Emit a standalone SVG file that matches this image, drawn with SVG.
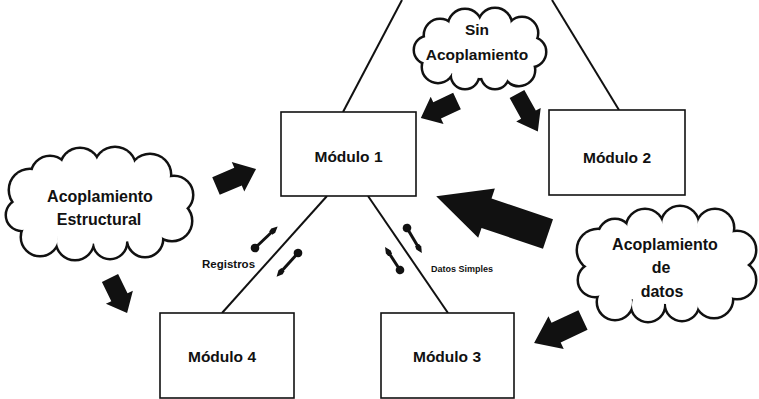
<svg xmlns="http://www.w3.org/2000/svg" xmlns:xlink="http://www.w3.org/1999/xlink" width="759" height="399" viewBox="0 0 759 399">
<style>
  .box{fill:#fff;stroke:#111;stroke-width:1.6}
  .lbl{font-family:"Liberation Sans",Arial,sans-serif;font-weight:bold;fill:#111;text-anchor:middle}
  .mod{font-size:15.5px}
  .cl{font-size:16px}
  .small{font-family:"Liberation Sans",Arial,sans-serif;font-weight:bold;fill:#111}
  .link{stroke:#111;stroke-width:2;fill:none}
  .big{fill:#111}
  .dart{stroke:#111;stroke-width:3;fill:none;marker-start:url(#dot);marker-end:url(#tip)}
  .cout{fill:#111;stroke:#111;stroke-width:5}
  .cin{fill:#fff;stroke:none}
</style>
<defs>
  <path id="blk" d="M0,-0.3 H0.55 V-0.5 L1,0 L0.55,0.5 V0.3 H0 Z"/>
  <marker id="dot" viewBox="-3 -3 6 6" markerWidth="3.2" markerHeight="3.2" refX="0" refY="0" orient="auto" markerUnits="strokeWidth">
    <circle r="2.7" fill="#111"/>
  </marker>
  <marker id="tip" viewBox="-1 -3 8 6" markerWidth="3.2" markerHeight="2.4" refX="4" refY="0" orient="auto" markerUnits="strokeWidth">
    <path d="M-1,-1.8 L2,-2.4 L7,0 L2,2.4 L-1,1.8 Z" fill="#111"/>
  </marker>
  <g id="cloud1">
    <ellipse cx="480" cy="50" rx="50" ry="28"/>
    <circle cx="440" cy="35" r="15"/><circle cx="465" cy="26" r="16"/><circle cx="495" cy="25" r="16"/>
    <circle cx="522" cy="33" r="15"/><circle cx="531" cy="52" r="14"/><circle cx="519" cy="70" r="15"/>
    <circle cx="495" cy="75" r="13"/><circle cx="465" cy="75" r="13"/><circle cx="438" cy="67" r="15"/>
    <circle cx="428" cy="50" r="13"/>
  </g>
  <g id="cloud2">
    <ellipse cx="101" cy="204" rx="75" ry="40"/>
    <circle cx="30" cy="190" r="20"/><circle cx="22" cy="215" r="15"/><circle cx="40" cy="237" r="18"/>
    <circle cx="75" cy="241" r="18"/><circle cx="110" cy="242" r="16"/><circle cx="145" cy="239" r="17"/>
    <circle cx="172" cy="221" r="19"/><circle cx="174" cy="195" r="18"/><circle cx="150" cy="175" r="20"/>
    <circle cx="115" cy="168" r="20"/><circle cx="80" cy="168" r="19"/><circle cx="50" cy="175" r="18"/>
  </g>
  <g id="cloud3">
    <ellipse cx="666" cy="264" rx="72" ry="40"/>
    <circle cx="598" cy="250" r="20"/><circle cx="595" cy="280" r="16"/><circle cx="615" cy="302" r="17"/>
    <circle cx="648" cy="305" r="16"/><circle cx="682" cy="304" r="16"/><circle cx="714" cy="299" r="18"/>
    <circle cx="737" cy="280" r="18"/><circle cx="737" cy="250" r="18"/><circle cx="715" cy="228" r="18"/>
    <circle cx="680" cy="225" r="18"/><circle cx="645" cy="228" r="18"/><circle cx="615" cy="236" r="16"/>
  </g>
</defs>

<rect width="759" height="399" fill="#fff"/>

<g id="connectors">
  <line class="link" x1="343" y1="112" x2="402" y2="0"/>
  <line class="link" x1="552" y1="0" x2="619" y2="110"/>
  <line class="link" x1="327" y1="196" x2="222" y2="313"/>
  <line class="link" x1="368" y1="196" x2="448" y2="313"/>
  <line class="dart" x1="255" y1="248" x2="275" y2="229"/>
  <line class="dart" x1="298" y1="253" x2="279" y2="274"/>
  <line class="dart" x1="407" y1="228" x2="420" y2="250"/>
  <line class="dart" x1="400" y1="270" x2="387" y2="250"/>
  <use xlink:href="#blk" class="big" transform="translate(457,101) rotate(154.7) scale(40,30)"/>
  <use xlink:href="#blk" class="big" transform="translate(517,94) rotate(61) scale(43,28)"/>
  <use xlink:href="#blk" class="big" transform="translate(216,186) rotate(-23) scale(43.5,32)"/>
  <use xlink:href="#blk" class="big" transform="translate(110,278) rotate(64) scale(39,30)"/>
  <use xlink:href="#blk" class="big" transform="translate(548,234) rotate(198.7) scale(118,52)"/>
  <use xlink:href="#blk" class="big" transform="translate(583,320) rotate(154.9) scale(54,36)"/>
  <text class="small" x="202" y="268" font-size="11.5">Registros</text>
  <text class="small" x="431" y="272" font-size="9">Datos Simples</text>
</g>

<g id="modulo1">
  <rect class="box" x="281" y="112" width="135" height="84"/>
  <text class="lbl mod" x="348.5" y="162">Módulo 1</text>
</g>
<g id="modulo2">
  <rect class="box" x="549" y="110" width="136" height="85"/>
  <text class="lbl mod" x="617" y="163">Módulo 2</text>
</g>
<g id="modulo4">
  <rect class="box" x="160" y="313" width="134" height="85"/>
  <text class="lbl mod" x="222" y="362">Módulo 4</text>
</g>
<g id="modulo3">
  <rect class="box" x="381" y="313" width="133" height="85"/>
  <text class="lbl mod" x="447" y="362">Módulo 3</text>
</g>

<g id="sin-acoplamiento">
  <use xlink:href="#cloud1" class="cout"/>
  <use xlink:href="#cloud1" class="cin"/>
  <text class="lbl" font-size="15.5" x="477" y="35">Sin</text>
  <text class="lbl" font-size="15.5" x="477" y="60">Acoplamiento</text>
</g>
<g id="acoplamiento-estructural">
  <use xlink:href="#cloud2" class="cout"/>
  <use xlink:href="#cloud2" class="cin"/>
  <text class="lbl cl" x="100" y="202">Acoplamiento</text>
  <text class="lbl cl" x="99" y="225">Estructural</text>
</g>
<g id="acoplamiento-datos">
  <use xlink:href="#cloud3" class="cout"/>
  <use xlink:href="#cloud3" class="cin"/>
  <text class="lbl cl" x="665" y="250">Acoplamiento</text>
  <text class="lbl cl" x="661" y="273">de</text>
  <text class="lbl cl" x="662" y="297">datos</text>
</g>
</svg>
